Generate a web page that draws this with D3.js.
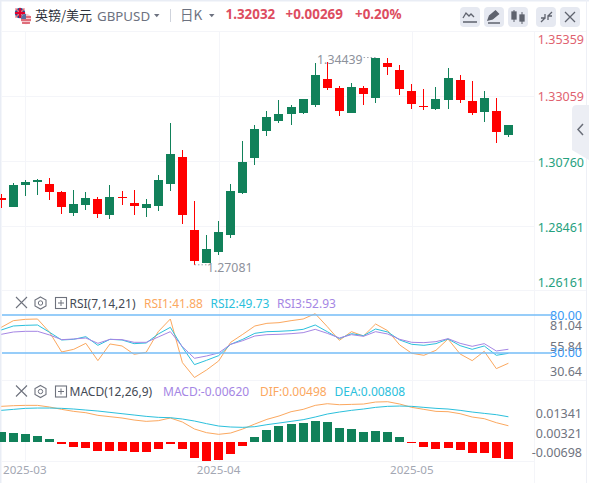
<!DOCTYPE html>
<html><head><meta charset="utf-8">
<script src="https://cdn.jsdelivr.net/npm/d3@7"></script>
<style>html,body{margin:0;padding:0;background:#fff;overflow:hidden}svg{display:block}text{font-family:"Noto Sans","Liberation Sans",Arial,sans-serif}</style>
</head><body><div id="c"></div>
<script>
const opens=[1.29451,1.29132,1.29913,1.30019,1.29948,1.29664,1.28919,1.29203,1.29416,1.28848,1.29487,1.29274,1.29096,1.29167,1.29948,1.30907,1.28315,1.27145,1.27534,1.28138,1.29629,1.30871,1.31830,1.32185,1.32433,1.32469,1.32753,1.33676,1.33356,1.32469,1.33356,1.33001,1.34244,1.33995,1.33250,1.32717,1.32611,1.32930,1.33640,1.32895,1.32504,1.32540,1.31688];
const highs=[1.29593,1.29984,1.30090,1.30126,1.30161,1.29700,1.29735,1.29664,1.29487,1.29913,1.29700,1.29735,1.29416,1.30268,1.32114,1.31155,1.29345,1.28138,1.28635,1.29948,1.31475,1.32043,1.32540,1.32930,1.32753,1.32966,1.34244,1.34279,1.33427,1.33534,1.33427,1.34439,1.34439,1.34173,1.33498,1.33321,1.33392,1.34066,1.33818,1.33605,1.33250,1.33001,1.32043];
const lows=[1.29096,1.29132,1.29522,1.29558,1.29380,1.28883,1.28812,1.29025,1.28741,1.28706,1.29203,1.28848,1.28777,1.28990,1.29700,1.28528,1.27081,1.27145,1.27428,1.28031,1.29593,1.30623,1.31652,1.32114,1.32043,1.32433,1.32682,1.33285,1.32362,1.32469,1.32753,1.32824,1.33818,1.33108,1.32611,1.32575,1.32575,1.32611,1.32824,1.32398,1.32149,1.31404,1.31617];
const closes=[1.29380,1.29913,1.30019,1.30080,1.29664,1.29132,1.29238,1.29451,1.28883,1.29487,1.29451,1.29167,1.29238,1.30090,1.31013,1.28848,1.27215,1.27641,1.28244,1.29700,1.30729,1.31901,1.32327,1.32433,1.32682,1.32966,1.33818,1.33356,1.32540,1.33392,1.33143,1.34439,1.34102,1.33321,1.32788,1.32682,1.32966,1.33711,1.32930,1.32469,1.33001,1.31794,1.32032];
const rsi1=[70.26,75.53,76.58,76.84,66.32,50.79,52.89,57.63,43.95,57.11,55.53,48.95,50.53,66.84,76.84,42.37,30.64,36.58,43.68,58.42,64.74,71.32,73.42,73.95,75.53,76.84,81.04,70.79,60.0,66.84,63.42,72.89,67.63,56.32,49.74,48.16,52.11,61.05,49.21,43.95,51.32,37.63,41.88];
const rsi2=[68.16,71.32,71.84,72.11,66.32,60.26,60.79,62.89,56.05,60.79,60.26,57.37,57.89,65.0,70.26,54.47,40.79,44.21,47.89,56.84,60.79,65.53,66.84,67.11,67.63,68.68,72.11,66.84,61.32,65.26,63.68,68.95,66.58,60.26,56.84,56.05,57.37,61.05,55.79,52.89,55.53,48.16,49.73];
const rsi3=[64.74,66.58,67.11,67.11,64.21,60.53,61.05,61.84,57.63,60.79,60.53,58.42,58.42,62.63,66.84,55.0,45.79,47.63,50.0,56.84,59.74,63.42,64.47,64.74,65.26,66.05,68.68,65.53,61.84,64.47,63.16,66.84,65.0,60.79,58.42,58.16,58.95,61.32,57.63,55.26,57.37,51.58,52.93];
const dif=[.01167,.01190,.01201,.01201,.01144,.01063,.00994,.00948,.00857,.00811,.00765,.00696,.00650,.00673,.00765,.00627,.00386,.00260,.00202,.00248,.00386,.00558,.00719,.00834,.00983,.01063,.01201,.01258,.01224,.01235,.01247,.01316,.01327,.01247,.01132,.01063,.00994,.00983,.00914,.00799,.00742,.00604,.00498];
const dea=[.01029,.01063,.01098,.01109,.01109,.01098,.01075,.01040,.01006,.00960,.00914,.00868,.00822,.00788,.00776,.00730,.00661,.00570,.00489,.00455,.00443,.00466,.00535,.00592,.00650,.00707,.00799,.00902,.00971,.01029,.01075,.01132,.01167,.01178,.01167,.01132,.01098,.01075,.01029,.00971,.00925,.00880,.00808];
const macd=[.00365,.00328,.00292,.00219,.00109,-.00061,-.00182,-.00219,-.00328,-.00328,-.00328,-.00365,-.00365,-.00255,-.00061,-.00255,-.00584,-.00693,-.00656,-.00438,-.00146,.00182,.00438,.00584,.00656,.00693,.00766,.00729,.00511,.00474,.00365,.00401,.00365,.00182,-.00024,-.00182,-.00255,-.00219,-.00292,-.00401,-.00401,-.00584,-.00620];
const priceTicks=[1.35359,1.33059,1.30760,1.28461,1.26161];
const macdTickLabels=["0.01341","0.00321","-0.00698"];
const rsiTickLabels=["81.04","55.84","30.64"];
const rsiLevels=[[80,"80.00"],[50,"30.00"]];
const monthStarts=[[2,"2025-03"],[18,"2025-04"],[34,"2025-05"]];

const GREEN="#11815a",RED="#ff0000",ORANGE="#fba85f",CYAN="#2bc0dc",PURPLE="#a586e4",GRID="#f4f5f9",TXT="#6f7480";
const W=589,H=483;
const svg=d3.select("#c").append("svg").attr("width",W).attr("height",H);
const n=closes.length, idx=d3.range(n);
const x=d3.scaleLinear().domain([0,n-1]).range([1.3,508.4]);
const y=d3.scaleLinear().domain([1.26161,1.35359]).range([290.7,31.6]);
const yR=d3.scaleLinear().domain([30,80]).range([378.3,315]);
const yL=d3.scaleLinear().domain([0,.01]).range([440.2,411.2]);
const yH=d3.scaleLinear().domain([-.01,.01]).range([469.4,414.6]);
const bw=9;

// frame
svg.append("rect").attr("x",0).attr("y",0).attr("width",W).attr("height",H).attr("fill","#fff");
svg.append("rect").attr("x",0).attr("y",0).attr("width",W).attr("height",1.5).attr("fill","#e9edf5");
svg.append("rect").attr("x",0).attr("y",0).attr("width",1.5).attr("height",H).attr("fill","#e9edf5");
svg.append("rect").attr("x",586).attr("y",0).attr("width",1).attr("height",H).attr("fill","#eef0f6");

// grid
const grid=svg.append("g").attr("stroke",GRID).attr("stroke-width",1).attr("shape-rendering","crispEdges");
[[2,586,31.5,31.5],[2,534,96.5,96.5],[2,534,161.5,161.5],[2,534,226,226],[2,586,290.5,290.5],[2,586,380.5,380.5],[2,534,461.5,461.5]].forEach(l=>grid.append("line").attr("x1",l[0]).attr("x2",l[1]).attr("y1",l[2]).attr("y2",l[3]));
monthStarts.forEach(m=>grid.append("line").attr("x1",Math.round(x(m[0]))+.5).attr("x2",Math.round(x(m[0]))+.5).attr("y1",32).attr("y2",461));
grid.append("line").attr("x1",534.5).attr("x2",534.5).attr("y1",32).attr("y2",483);

// candles
const up=i=>closes[i]>=opens[i];
const col=i=>up(i)?GREEN:RED;
const cg=svg.append("g").attr("shape-rendering","crispEdges");
cg.selectAll("line.w").data(idx).join("line").attr("class","w")
 .attr("x1",i=>Math.floor(x(i))+.5).attr("x2",i=>Math.floor(x(i))+.5).attr("y1",i=>y(highs[i])).attr("y2",i=>y(lows[i]))
 .attr("stroke",col).attr("stroke-width",1);
cg.selectAll("rect.b").data(idx).join("rect").attr("class","b")
 .attr("x",i=>Math.floor(x(i))-4).attr("width",bw)
 .attr("y",i=>y(Math.max(opens[i],closes[i])))
 .attr("height",i=>Math.max(1,Math.abs(y(opens[i])-y(closes[i]))))
 .attr("fill",col);

// price high/low annotations
const iHi=d3.maxIndex(highs), iLo=d3.minIndex(lows);
svg.append("text").attr("x",x(iHi)-13).attr("y",y(highs[iHi])+6).attr("text-anchor","end").attr("font-size",12.3).attr("fill","#8d919b").text(d3.format(".5f")(highs[iHi]));
svg.append("line").attr("x1",x(iHi)-12).attr("x2",x(iHi)).attr("y1",y(highs[iHi])).attr("y2",y(highs[iHi])).attr("stroke","#a0a4ae").attr("stroke-dasharray","1.5 2");
svg.append("text").attr("x",x(iLo)+12.5).attr("y",y(lows[iLo])+7).attr("font-size",12.3).attr("fill","#8d919b").text(d3.format(".5f")(lows[iLo]));
svg.append("line").attr("x1",x(iLo)).attr("x2",x(iLo)+12).attr("y1",y(lows[iLo])).attr("y2",y(lows[iLo])).attr("stroke","#a0a4ae").attr("stroke-dasharray","1.5 2");

// right price axis
const axisCol=v=>v>closes[n-1]?"#e0626f":"#26a17e";
const labelY=[44,101,166.5,232,287];
svg.selectAll("text.p").data(priceTicks).join("text").attr("class","p")
 .attr("x",584).attr("y",(d,i)=>labelY[i]).attr("text-anchor","end").attr("font-size",12.5).attr("fill",axisCol)
 .text(d=>d3.format(".5f")(d));

// RSI
const lineR=a=>d3.line().x((d,i)=>x(i)).y(d=>yR(d))(a);
[[rsi1,ORANGE],[rsi2,CYAN],[rsi3,PURPLE]].forEach(s=>svg.append("path").attr("d",lineR(s[0])).attr("fill","none").attr("stroke",s[1]).attr("stroke-width",1));
svg.selectAll("line.lv").data(rsiLevels).join("line").attr("class","lv")
 .attr("x1",2).attr("x2",552).attr("y1",d=>yR(d[0])).attr("y2",d=>yR(d[0])).attr("stroke","#74bdf7").attr("stroke-width",1.4);
const rsiLabY=[330,351,376];
svg.selectAll("text.rt").data(rsiTickLabels).join("text").attr("class","rt")
 .attr("x",582).attr("y",(d,i)=>rsiLabY[i]).attr("text-anchor","end").attr("font-size",12.5).attr("fill",TXT).text(d=>d);
svg.selectAll("text.lvt").data(rsiLevels).join("text").attr("class","lvt")
 .attr("x",582).attr("y",(d,i)=>yR(d[0])+4.5).attr("text-anchor","end").attr("font-size",12.5).attr("fill","#3a9af5").text(d=>d[1]);

// MACD
svg.selectAll("rect.h").data(idx).join("rect").attr("class","h").attr("shape-rendering","crispEdges")
 .attr("x",i=>Math.floor(x(i))-4).attr("width",bw)
 .attr("y",i=>Math.min(yH(macd[i]),yH(0))).attr("height",i=>Math.abs(yH(macd[i])-yH(0)))
 .attr("fill",i=>macd[i]>=0?GREEN:RED);
const lineL=a=>d3.line().x((d,i)=>x(i)).y(d=>yL(d))(a);
[[dif,ORANGE],[dea,CYAN]].forEach(s=>svg.append("path").attr("d",lineL(s[0])).attr("fill","none").attr("stroke",s[1]).attr("stroke-width",1));
const mLabY=[418,438,457];
svg.selectAll("text.mt").data(macdTickLabels).join("text").attr("class","mt")
 .attr("x",582).attr("y",(d,i)=>mLabY[i]).attr("text-anchor","end").attr("font-size",12.5).attr("fill",TXT).text(d=>d);

// dates
svg.selectAll("text.d").data(monthStarts).join("text").attr("class","d")
 .attr("x",d=>x(d[0])).attr("y",474).attr("text-anchor","middle").attr("font-size",11.6).attr("fill","#a3a7b3").text(d=>d[1]);
svg.selectAll("text.d").filter((d,i)=>i===0).attr("x",3).attr("text-anchor","start");

// legends
function legend(yy,items){items.forEach(t=>svg.append("text").attr("x",t[0]).attr("y",yy).attr("font-size",12).attr("fill",t[2]).text(t[1]));}
function paneIcons(yy){
 const g=svg.append("g").attr("transform",`translate(0,${yy})`).attr("fill","none").attr("stroke","#6e727d");
 g.append("path").attr("d","M16 -6 L27 5 M27 -6 L16 5").attr("stroke-width",1.1);
 g.append("path").attr("d","M40.5 -6 L46 -3 L46 3 L40.5 6 L35 3 L35 -3 Z").attr("stroke-width",1.1);
 g.append("circle").attr("cx",40.5).attr("cy",0).attr("r",2.2);
 g.append("rect").attr("x",55.5).attr("y",-5.5).attr("width",11).attr("height",11).attr("stroke-width",1.1);
 g.append("path").attr("d","M61 -3 V3 M58 0 H64").attr("stroke-width",1);
}
paneIcons(303);
legend(307.5,[[69.5,"RSI(7,14,21)","#444a55"],[144,"RSI1:41.88",ORANGE],[210.5,"RSI2:49.73",CYAN],[277,"RSI3:52.93",PURPLE]]);
paneIcons(391.5);
legend(396,[[69.5,"MACD(12,26,9)","#444a55"],[163,"MACD:-0.00620",PURPLE],[260,"DIF:0.00498",ORANGE],[334.5,"DEA:0.00808",CYAN]]);

// header
svg.append("text").attr("x",35).attr("y",19.5).attr("font-size",13).attr("fill","#2f333d").style("font-family",'"Noto Sans CJK SC"').text("英镑/美元");
svg.append("text").attr("x",97).attr("y",21).attr("font-size",13.3).attr("fill","#6d7280").text("GBPUSD");
svg.append("path").attr("d","M154 14 h5.5 l-2.75 3.2 z").attr("fill","#6d7280");
svg.append("line").attr("x1",170.5).attr("x2",170.5).attr("y1",9).attr("y2",22).attr("stroke","#cfd3dc");
svg.append("text").attr("x",180).attr("y",19.5).attr("font-size",13.5).attr("fill","#6d7280").style("font-family",'"Noto Sans CJK SC"').text("日K");
svg.append("path").attr("d","M209 14 h5.5 l-2.75 3.2 z").attr("fill","#6d7280");
[[225.5,"1.32032"],[285.5,"+0.00269"],[355,"+0.20%"]].forEach(t=>svg.append("text").attr("x",t[0]).attr("y",19).attr("font-size",13.4).attr("font-weight","bold").attr("fill","#dd4d5f").text(t[1]));

// flags
const f=svg.append("g");
f.append("circle").attr("cx",20).attr("cy",13).attr("r",5.2).attr("fill","#2d4a8a");
f.append("path").attr("d","M15.5 8.5 L24.5 17.5 M24.5 8.5 L15.5 17.5").attr("stroke","#e8707c").attr("stroke-width",1.6);
f.append("path").attr("d","M20 8 V18 M15 13 H25").attr("stroke","#e4002b").attr("stroke-width",1.8);
f.append("circle").attr("cx",26).attr("cy",19).attr("r",5.2).attr("fill","#f6c6cc");
f.append("path").attr("d","M21 17 H31 M21 20 H31 M22 23 H30").attr("stroke","#d8505f").attr("stroke-width",1.4);
f.append("path").attr("d","M21 19 A5.2 5.2 0 0 1 26 13.8 V19 Z").attr("fill","#5a6ea0");

// toolbar buttons
const bx=[460,484,508,536,560];
bx.forEach(b=>svg.append("rect").attr("x",b).attr("y",7).attr("width",20).attr("height",20).attr("rx",4).attr("fill","#e6e9f1"));
const ic=svg.append("g").attr("stroke","#5f636e").attr("fill","none").attr("stroke-width",1.3);
ic.append("path").attr("d","M463 18 l3 -5 l3 3 l2 -2 l3 3 M463 22 H477");
ic.append("path").attr("d","M488 20 l1.5 -4 l6 -5 l3 3 l-6 5 z M488 23 H500").attr("fill","#5f636e");
ic.append("path").attr("d","M514 10 V22 M522 12 V24").attr("stroke-width",1);
ic.append("rect").attr("x",512).attr("y",12).attr("width",4).attr("height",7).attr("fill","#5f636e");
ic.append("rect").attr("x",520).attr("y",15).attr("width",4).attr("height",6).attr("fill","#5f636e");
ic.append("path").attr("d","M541 22 l4 -4 M552 12 l-4 4 M545 14 v4 h-4 M548 20 v-4 h4");
ic.append("path").attr("d","M565 12 L575 22 M575 12 L565 22");

// collapse tab
svg.append("path").attr("d","M589 105 H577 Q572 105 572 110 V150 L589 160 Z").attr("fill","#eceef4");
svg.append("path").attr("d","M583 124 L578 129.5 L583 135").attr("fill","none").attr("stroke","#6a6e79").attr("stroke-width",1.5);
</script></body></html>
